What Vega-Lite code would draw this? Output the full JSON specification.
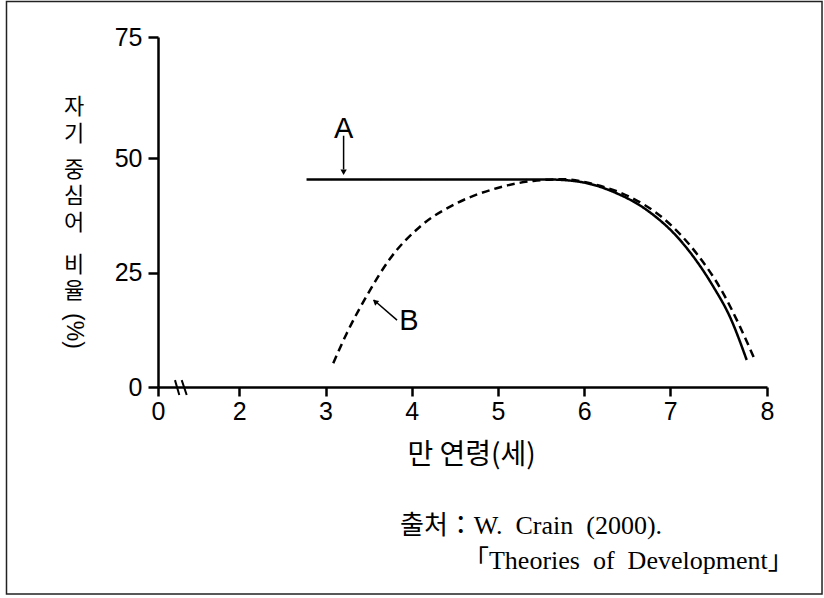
{
  "$schema": "https://vega.github.io/schema/vega-lite/v6.json",
  "width": 609,
  "height": 350,
  "autosize": {"type": "none"},
  "padding": {"left": 158, "top": 37, "right": 57, "bottom": 211},
  "background": "white",
  "config": {"view": {"stroke": null}},
  "datasets": {
    "curves": [
      {"series": "A", "age": 2.78, "ratio": 45.3},
      {"series": "A", "age": 4.5, "ratio": 45.3},
      {"series": "A", "age": 5.6, "ratio": 45.3},
      {"series": "A", "age": 5.95, "ratio": 44.8},
      {"series": "A", "age": 6.34, "ratio": 42.6},
      {"series": "A", "age": 6.73, "ratio": 38.6},
      {"series": "A", "age": 7.1, "ratio": 32.1},
      {"series": "A", "age": 7.445, "ratio": 21.9},
      {"series": "A", "age": 7.617, "ratio": 15.3},
      {"series": "A", "age": 7.79, "ratio": 5.9},
      {"series": "B", "age": 3.09, "ratio": 5.2},
      {"series": "B", "age": 3.246, "ratio": 11.7},
      {"series": "B", "age": 3.497, "ratio": 20.5},
      {"series": "B", "age": 3.748, "ratio": 28.0},
      {"series": "B", "age": 4.096, "ratio": 35.0},
      {"series": "B", "age": 4.52, "ratio": 40.1},
      {"series": "B", "age": 4.986, "ratio": 43.4},
      {"series": "B", "age": 5.41, "ratio": 45.0},
      {"series": "B", "age": 5.76, "ratio": 45.35},
      {"series": "B", "age": 6.146, "ratio": 44.1},
      {"series": "B", "age": 6.53, "ratio": 41.5},
      {"series": "B", "age": 6.92, "ratio": 36.8},
      {"series": "B", "age": 7.27, "ratio": 29.2},
      {"series": "B", "age": 7.546, "ratio": 20.5},
      {"series": "B", "age": 7.72, "ratio": 13.2},
      {"series": "B", "age": 7.875, "ratio": 5.9}
    ],
    "breaks": [
      {"x0": 0.418, "x1": 0.524, "y0": 1.5, "y1": -1.75},
      {"x0": 0.583, "x1": 0.706, "y0": 1.5, "y1": -1.75}
    ]
  },
  "layer": [
    {
      "data": {"name": "curves"},
      "mark": {"type": "line", "interpolate": "monotone", "strokeWidth": 2.5, "color": "black", "strokeCap": "butt"},
      "encoding": {
        "x": {
          "field": "age", "type": "quantitative",
          "scale": {"domain": [0, 2, 7, 8], "range": [0, 81.3, 512.3, 609], "zero": false, "nice": false},
          "axis": {
            "values": [0, 2, 3, 4, 5, 6, 7, 8], "format": "d", "grid": false,
            "domainColor": "black", "domainWidth": 2.5, "tickColor": "black", "tickWidth": 2.5, "tickSize": 9,
            "labelFont": "Liberation Sans", "labelFontSize": 25, "labelColor": "black", "labelPadding": 3,
            "labelFlush": false, "labelOverlap": false,
            "title": "만 연령(세)", "titleFont": "Noto Sans CJK KR", "titleFontSize": 28, "titleFontWeight": "normal",
            "titleColor": "black", "titleX": 313, "titleY": 68, "titleAlign": "center", "titleBaseline": "middle", "titleAnchor": null
          }
        },
        "y": {
          "field": "ratio", "type": "quantitative",
          "scale": {"domain": [0, 50, 75], "range": [350, 121, 0], "zero": false, "nice": false},
          "axis": {
            "values": [0, 25, 50, 75], "format": "d", "grid": false,
            "domainColor": "black", "domainWidth": 2.5, "tickColor": "black", "tickWidth": 2.5, "tickSize": 10,
            "labelFont": "Liberation Sans", "labelFontSize": 25, "labelColor": "black", "labelPadding": 6,
            "labelFlush": false, "labelOverlap": false,
            "title": null
          }
        },
        "strokeDash": {
          "field": "series", "type": "nominal",
          "scale": {"domain": ["A", "B"], "range": [[1, 0], [8, 5]]},
          "legend": null
        }
      }
    },
    {
      "data": {"name": "breaks"},
      "mark": {"type": "rule", "strokeWidth": 2, "color": "black"},
      "encoding": {
        "x": {"field": "x0", "type": "quantitative"},
        "x2": {"field": "x1"},
        "y": {"field": "y0", "type": "quantitative"},
        "y2": {"field": "y1"}
      }
    },
    {
      "data": {"values": [{}]},
      "mark": {"type": "rule", "strokeWidth": 1.5, "color": "black"},
      "encoding": {"x": {"datum": 3.21}, "y": {"datum": 54.6}, "y2": {"datum": 47.5}}
    },
    {
      "data": {"values": [{}]},
      "mark": {"type": "point", "shape": "triangle-down", "filled": true, "size": 40, "color": "black", "opacity": 1},
      "encoding": {"x": {"datum": 3.21}, "y": {"datum": 46.9}}
    },
    {
      "data": {"values": [{}]},
      "mark": {"type": "rule", "strokeWidth": 1.5, "color": "black"},
      "encoding": {"x": {"datum": 3.83}, "x2": {"datum": 3.56}, "y": {"datum": 14.6}, "y2": {"datum": 19.0}}
    },
    {
      "data": {"values": [{}]},
      "mark": {"type": "point", "shape": "triangle-up", "filled": true, "size": 40, "angle": 310, "color": "black", "opacity": 1},
      "encoding": {"x": {"datum": 3.575}, "y": {"datum": 18.65}}
    },
    {
      "data": {"values": [{}]},
      "mark": {"type": "text", "text": "A", "font": "Liberation Sans", "fontSize": 29, "color": "black", "align": "center", "baseline": "middle"},
      "encoding": {"x": {"datum": 3.21}, "y": {"datum": 56.0}}
    },
    {
      "data": {"values": [{}]},
      "mark": {"type": "text", "text": "B", "font": "Liberation Sans", "fontSize": 29, "color": "black", "align": "center", "baseline": "middle"},
      "encoding": {"x": {"datum": 3.969}, "y": {"datum": 14.4}}
    },
    {
      "data": {"values": [{}]},
      "mark": {"type": "text", "text": ["자", "기"], "font": "Noto Sans CJK KR", "fontSize": 22, "lineHeight": 27, "color": "black", "align": "center", "baseline": "middle"},
      "encoding": {"x": {"datum": -2.066}, "y": {"datum": 60.54}}
    },
    {
      "data": {"values": [{}]},
      "mark": {"type": "text", "text": ["중", "심", "어"], "font": "Noto Sans CJK KR", "fontSize": 22, "lineHeight": 26.5, "color": "black", "align": "center", "baseline": "middle"},
      "encoding": {"x": {"datum": -2.066}, "y": {"datum": 47.38}}
    },
    {
      "data": {"values": [{}]},
      "mark": {"type": "text", "text": ["비", "율"], "font": "Noto Sans CJK KR", "fontSize": 22, "lineHeight": 26.5, "color": "black", "align": "center", "baseline": "middle"},
      "encoding": {"x": {"datum": -2.066}, "y": {"datum": 26.64}}
    },
    {
      "data": {"values": [{}]},
      "mark": {"type": "text", "text": "(%)", "angle": 90, "font": "Liberation Sans", "fontSize": 23, "color": "black", "align": "center", "baseline": "middle"},
      "encoding": {"x": {"datum": -2.066}, "y": {"datum": 12.23}}
    },
    {
      "data": {"values": [{}]},
      "mark": {"type": "text", "text": "출처：W.\u2002Crain\u2002(2000).", "font": "Liberation Serif, Noto Sans CJK KR", "fontSize": 26, "color": "black", "align": "left", "baseline": "middle"},
      "encoding": {"x": {"datum": 3.864}, "y": {"datum": -30.35}}
    },
    {
      "data": {"values": [{}]},
      "mark": {"type": "text", "text": "「Theories\u2002of\u2002Development」", "font": "Liberation Serif, Noto Sans CJK KR", "fontSize": 26, "color": "black", "align": "left", "baseline": "middle"},
      "encoding": {"x": {"datum": 4.595}, "y": {"datum": -38.0}}
    },
    {
      "data": {"values": [{}]},
      "mark": {"type": "rect", "filled": false, "stroke": "#222", "strokeWidth": 1.5},
      "encoding": {"x": {"datum": -3.727}, "x2": {"datum": 8.569}, "y": {"datum": 82.33}, "y2": {"datum": -45.2}}
    }
  ]
}
